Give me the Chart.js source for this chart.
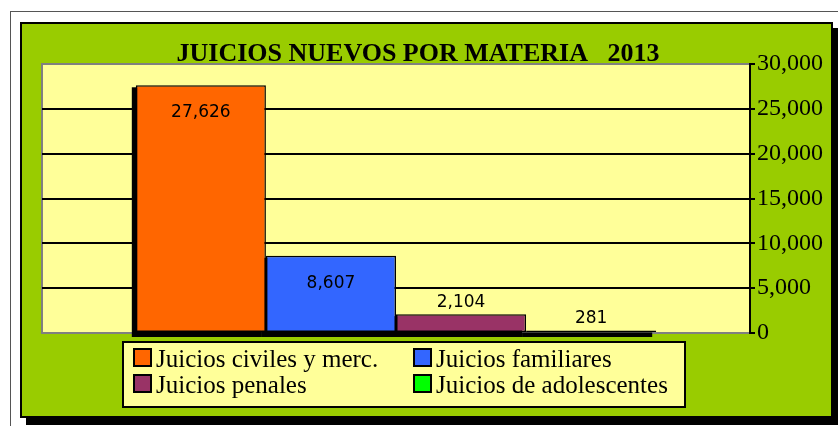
<!DOCTYPE html>
<html>
<head>
<meta charset="utf-8">
<script src="https://cdn.jsdelivr.net/npm/chart.js@4"></script>
<style>
  body { margin: 0; background: #ffffff; }
  canvas { display: block; }
</style>
</head>
<body>
<canvas id="juicios" width="838" height="426"></canvas>
<script>
const chartTitle = 'JUICIOS NUEVOS POR MATERIA   2013';
const materias = ['Juicios civiles y merc.', 'Juicios familiares', 'Juicios penales', 'Juicios de adolescentes'];
const juiciosNuevos = [27626, 8607, 2104, 281];
const colores = ['#FF6600', '#3366FF', '#993366', '#00FF00'];
const yTicks = [0, 5000, 10000, 15000, 20000, 25000, 30000];

const canvas = document.getElementById('juicios');

// background frame, green panel and yellow plot area
const framePlugin = {
    id: 'frame',
    beforeDraw(chart) {
        const ctx = chart.ctx;
        const a = chart.chartArea;
        ctx.save();
        ctx.fillStyle = '#ffffff';
        ctx.fillRect(0, 0, chart.width, chart.height);
        ctx.strokeStyle = '#555555';
        ctx.lineWidth = 1;
        ctx.strokeRect(10.5, 11.5, 840, 430);
        // shadow
        ctx.fillStyle = '#000000';
        ctx.fillRect(26, 28, 812, 397);
        ctx.fillStyle = '#99CC00';
        ctx.fillRect(20, 22, 813, 396);
        ctx.strokeStyle = '#000000';
        ctx.lineWidth = 2;
        ctx.strokeRect(21, 23, 811, 394);
        // plot area
        ctx.fillStyle = '#FFFF99';
        ctx.fillRect(a.left, a.top, a.right - a.left, a.bottom - a.top);
        ctx.strokeStyle = '#808080';
        ctx.strokeRect(a.left, a.top, a.right - a.left, a.bottom - a.top);
        ctx.restore();
    },
    beforeDatasetsDraw(chart) {
        // bar shadows, offset down and to the left
        const ctx = chart.ctx;
        ctx.save();
        ctx.fillStyle = '#000000';
        chart.data.datasets.forEach((ds, i) => {
            const bar = chart.getDatasetMeta(i).data[0];
            const p = bar.getProps(['x', 'y', 'base', 'width'], true);
            ctx.fillRect(p.x - p.width / 2 - 4, p.y + 2, p.width, p.base - p.y + 3);
        });
        ctx.restore();
    },
    afterDatasetsDraw(chart) {
        const ctx = chart.ctx;
        // value labels
        ctx.save();
        ctx.fillStyle = '#000000';
        ctx.font = '17px "DejaVu Sans"';
        ctx.textAlign = 'center';
        ctx.textBaseline = 'alphabetic';
        chart.data.datasets.forEach((ds, i) => {
            const bar = chart.getDatasetMeta(i).data[0];
            const v = ds.data[0];
            const txt = v.toLocaleString('en-US');
            const inside = (bar.base - bar.y) > 60;
            ctx.fillText(txt, bar.x, inside ? bar.y + 32 : bar.y - 7);
        });
        ctx.restore();
    },
    afterDraw(chart) {
        const ctx = chart.ctx;
        ctx.save();
        // title
        ctx.fillStyle = '#000000';
        ctx.font = 'bold 26px "Liberation Serif"';
        ctx.textAlign = 'center';
        ctx.textBaseline = 'alphabetic';
        ctx.fillText(chartTitle, 418, 61);
        // legend box
        ctx.fillStyle = '#FFFF99';
        ctx.fillRect(122, 341, 564, 67);
        ctx.strokeStyle = '#000000';
        ctx.lineWidth = 2;
        ctx.strokeRect(123, 342, 562, 65);
        ctx.font = '25px "Liberation Serif"';
        ctx.textAlign = 'left';
        const cols = [133, 413];
        const rows = [348, 374];
        chart.data.datasets.forEach((ds, i) => {
            const x = cols[i % 2];
            const y = rows[Math.floor(i / 2)];
            ctx.fillStyle = ds.backgroundColor;
            ctx.fillRect(x, y, 19, 19);
            ctx.strokeStyle = '#000000';
            ctx.lineWidth = 2;
            ctx.strokeRect(x + 1, y + 1, 17, 17);
            ctx.fillStyle = '#000000';
            ctx.fillText(ds.label, x + 23, y + 19);
        });
        ctx.restore();
    }
};

new Chart(canvas, {
    type: 'bar',
    data: {
        labels: ['2013'],
        datasets: materias.map((m, i) => ({
            label: m,
            data: [juiciosNuevos[i]],
            backgroundColor: colores[i],
            borderColor: '#000000',
            borderWidth: 1.5,
            borderSkipped: false,
            categoryPercentage: 0.735,
            barPercentage: 1.0,
            clip: false
        }))
    },
    options: {
        responsive: false,
        animation: false,
        layout: { padding: { left: 42, top: 64, bottom: 93, right: 0 } },
        plugins: {
            legend: { display: false },
            title: { display: false },
            tooltip: { enabled: false }
        },
        scales: {
            x: { display: false },
            y: {
                position: 'right',
                min: 0,
                max: 30000,
                afterFit(scale) { scale.width = 88; },
                afterBuildTicks(scale) { scale.ticks = yTicks.map(v => ({ value: v })); },
                border: { display: true, color: '#000000', width: 2 },
                grid: {
                    color: c => (c.tick.value === 0 || c.tick.value === 30000) ? '#808080' : '#000000',
                    lineWidth: 2,
                    drawTicks: true,
                    tickLength: 5,
                    tickColor: '#000000'
                },
                ticks: {
                    color: '#000000',
                    padding: 2,
                    font: { family: 'Liberation Serif', size: 24 },
                    callback: v => v.toLocaleString('en-US')
                }
            }
        }
    },
    plugins: [framePlugin]
});
</script>
</body>
</html>
